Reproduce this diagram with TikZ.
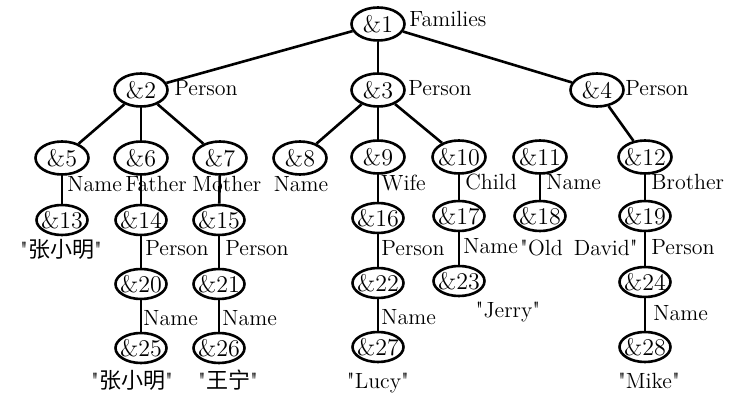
\documentclass[tikz,border=0pt]{standalone}
\usepackage{fontspec}
\newfontfamily\cjk{Noto Sans CJK SC}
\usetikzlibrary{shapes.geometric}
\newcommand\qq{\textquotedbl}
\newcommand\oid[1]{\makebox[0pt]{\&#1}}
\begin{document}
\begin{tikzpicture}[x=0.5pt,y=-0.5pt,
  obj/.style={ellipse,draw,line width=1.3pt,inner sep=0pt,
    minimum width=26.5pt,minimum height=16.5pt,font=\fontsize{12}{14}\selectfont},
  sobj/.style={obj,minimum width=25.5pt,minimum height=15pt},
  lab/.style={anchor=base west,inner sep=0pt,font=\fontsize{11}{13}\selectfont},
  val/.style={anchor=base,inner sep=0pt,font=\fontsize{11}{13}\selectfont},
  link/.style={line width=1.3pt}]
\useasboundingbox (0,0) rectangle (738,400);

% level 1 and 2
\node[obj] (n1) at (378,24) {\oid{1}};
\node[obj] (n2) at (141,90) {\oid{2}};
\node[obj] (n3) at (378,90) {\oid{3}};
\node[obj] (n4) at (597,90) {\oid{4}};

% level 3
\node[obj] (n5) at (62,158) {\oid{5}};
\node[obj] (n6) at (141,158) {\oid{6}};
\node[obj] (n7) at (220,158) {\oid{7}};
\node[obj] (n8) at (300,158) {\oid{8}};
\node[obj] (n9) at (378,157) {\oid{9}};
\node[obj] (n10) at (459,157) {\oid{10}};
\node[obj] (n11) at (540,157) {\oid{11}};
\node[obj] (n12) at (645,157) {\oid{12}};

% level 4
\node[sobj] (n13) at (62,220) {\oid{13}};
\node[sobj] (n14) at (141,220) {\oid{14}};
\node[sobj] (n15) at (219,220) {\oid{15}};
\node[sobj] (n16) at (378,218) {\oid{16}};
\node[sobj] (n17) at (459,216) {\oid{17}};
\node[sobj] (n18) at (540,216) {\oid{18}};
\node[sobj] (n19) at (645,216) {\oid{19}};

% level 5
\node[sobj] (n20) at (141,284) {\oid{20}};
\node[sobj] (n21) at (219,284) {\oid{21}};
\node[sobj] (n22) at (378,283) {\oid{22}};
\node[sobj] (n23) at (459,281) {\oid{23}};
\node[sobj] (n24) at (645,282) {\oid{24}};

% level 6
\node[sobj] (n25) at (141,348) {\oid{25}};
\node[sobj] (n26) at (219,348) {\oid{26}};
\node[sobj] (n27) at (378,347) {\oid{27}};
\node[sobj] (n28) at (645,347) {\oid{28}};

% edges
\draw[link] (n1) -- (n2);
\draw[link] (n1) -- (n3);
\draw[link] (n1) -- (n4);
\draw[link] (n2) -- (n5);
\draw[link] (n2) -- (n6);
\draw[link] (n2) -- (n7);
\draw[link] (n3) -- (n8);
\draw[link] (n3) -- (n9);
\draw[link] (n3) -- (n10);
\draw[link] (n4) -- (n12);
\draw[link] (n5) -- (n13);
\draw[link] (n6) -- (n14);
\draw[link] (n7) -- (n15);
\draw[link] (n9) -- (n16);
\draw[link] (n10) -- (n17);
\draw[link] (n11) -- (n18);
\draw[link] (n12) -- (n19);
\draw[link] (n14) -- (n20);
\draw[link] (n15) -- (n21);
\draw[link] (n16) -- (n22);
\draw[link] (n17) -- (n23);
\draw[link] (n19) -- (n24);
\draw[link] (n20) -- (n25);
\draw[link] (n21) -- (n26);
\draw[link] (n22) -- (n27);
\draw[link] (n24) -- (n28);

% edge labels
\node[lab] (lf) at (409,27) {Families};
\node[lab] (l2) at (174,96) {Person};
\node[lab] (l3) at (408,96) {Person};
\node[lab] (l4) at (625,96) {Person};
\node[lab] (l5) at (67,192) {Name};
\node[lab] (l6) at (125,192) {Father};
\node[lab] (l7) at (192,192) {Mother};
\node[val] (l8) at (301,192) {Name};
\node[lab] (l9) at (381,191) {Wife};
\node[lab] (l10) at (465,190) {Child};
\node[lab] (l11) at (546,190) {Name};
\node[lab] (l12) at (651,190) {Brother};
\node[lab] (l14) at (145,256) {Person};
\node[lab] (l15) at (225,256) {Person};
\node[lab] (l16) at (381,256) {Person};
\node[lab] (l17) at (463,254) {Name};
\node[lab] (l19) at (651,255) {Person};
\node[lab] (l20) at (143,326) {Name};
\node[lab] (l21) at (222,326) {Name};
\node[lab] (l22) at (381,325) {Name};
\node[lab] (l24) at (653,321) {Name};

% string values
\node[val] (v13) at (61,258) {\qq{\cjk 张小明}\qq};
\node[val] (v18) at (579,256) {\qq Old\hspace{2pt} David\qq};
\node[val] (v23) at (508,318) {\qq Jerry\qq};
\node[val] (v25) at (132,388) {\qq{\cjk 张小明}\qq};
\node[val] (v26) at (228,388) {\qq{\cjk 王宁}\qq};
\node[val] (v27) at (378,388) {\qq Lucy\qq};
\node[val] (v28) at (649,388) {\qq Mike\qq};
\end{tikzpicture}
\end{document}
